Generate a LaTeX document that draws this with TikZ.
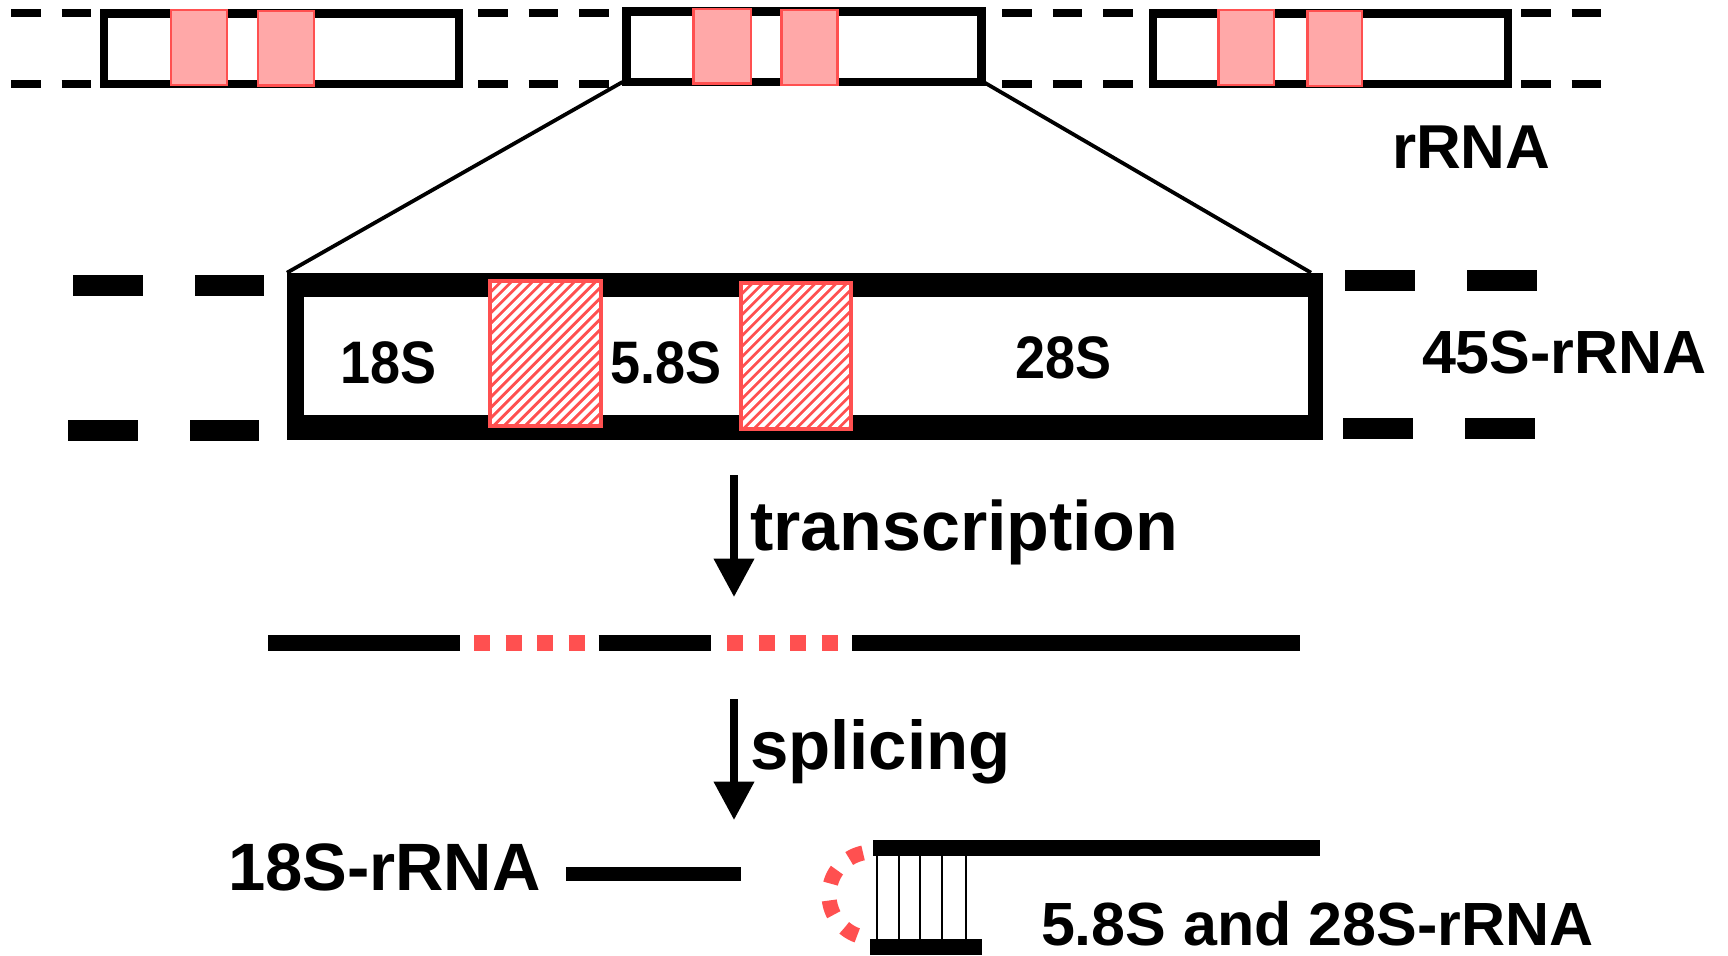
\documentclass[tikz,border=0pt]{standalone}
\usepackage{fontspec}
\setmainfont{Liberation Sans}
\usetikzlibrary{arrows.meta}
\definecolor{hred}{HTML}{FF5050}
\definecolor{hpink}{HTML}{FFA8A8}
\begin{document}
\begin{tikzpicture}[x=1pt,y=-1pt,
  lbl/.style={inner sep=0pt, outer sep=0pt, anchor=base west, font=\bfseries},
  gene/.style={draw=black, line width=8.5pt, minimum width=355pt, minimum height=70.7pt, inner sep=0pt, outer sep=0pt},
  exon/.style={fill=hpink, draw=hred, line width=2.5pt},
  topdash/.style={line width=8pt, dash pattern=on 29.5pt off 21pt},
  middash/.style={line width=20.7pt, dash pattern=on 70pt off 52pt},
  bar/.style={line width=16pt},
  transc/.style={line width=16pt},
  bigarrow/.style={line width=7.5pt, -{Triangle[width=39pt,length=38.5pt]}}
]
\useasboundingbox (0,0) rectangle (1728,955);

% ---- top: gene repeats ----
\foreach \yy in {13.3,84} {
  \draw[topdash] (11,\yy) -- (92,\yy);
  \draw[topdash] (478,\yy) -- (609,\yy);
  \draw[topdash] (1002,\yy) -- (1134,\yy);
  \draw[topdash] (1521,\yy) -- (1602,\yy);
}
\node[gene] (gene1) at (281.5,48.65) {};
\node[gene] (gene2) at (804,46.65) {};
\node[gene] (gene3) at (1330.5,48.65) {};
\draw[exon] (171,10) rectangle (227,85);
\draw[exon] (258,11) rectangle (314,85.5);
\draw[exon] (693.5,9) rectangle (751,83.5);
\draw[exon] (781.5,10) rectangle (837.5,85);
\draw[exon] (1218.5,10) rectangle (1274,85);
\draw[exon] (1307.5,11) rectangle (1362,86);
\node[lbl, font=\bfseries\fontsize{62}{70}\selectfont] (rrna) at (1392,168.3) {rRNA};

% ---- middle: 45S unit ----
\draw[middash] (73,285.3) -- (264,285.3);
\draw[middash] (68,430.3) -- (259,430.3);
\draw[middash] (1345,280.3) -- (1540,280.3);
\draw[middash] (1343,428.5) -- (1537,428.5);
\node[fill=black, minimum width=1036pt, minimum height=167.3pt, inner sep=0pt, outer sep=0pt] (big) at (805,356.35) {};
\fill[white] (304.3,296.7) rectangle (1307.7,415);
\draw[line width=3.8pt] ([xshift=-4pt]gene2.south west) -- (big.north west);
\draw[line width=3.8pt] ([xshift=2pt]gene2.south east) -- ([xshift=-12pt]big.north east);

\foreach \l/\t/\r/\b in {490.3/281.3/601.3/426.3, 740.8/282.7/850.5/428.7} {
  \begin{scope}
    \clip (\l,\t) rectangle (\r,\b);
    \fill[hred] (\l,\t) rectangle (\r,\b);
    \foreach \s in {0,10.5,...,300} \draw[white, line width=4.4pt] (\l-165+\s,\b+5) -- ++(180,-180);
  \end{scope}
  \draw[hred, line width=4pt] (\l,\t) rectangle (\r,\b);
}
\node[lbl] (s18) at (340,383.3) {\scalebox{0.9}[1]{\fontsize{60}{66}\selectfont 18S}};
\node[lbl] (s58) at (610,383) {\scalebox{0.9}[1]{\fontsize{60}{66}\selectfont 5.8S}};
\node[lbl] (s28) at (1015,378.3) {\scalebox{0.9}[1]{\fontsize{60}{66}\selectfont 28S}};
\node[lbl, font=\bfseries\fontsize{61}{70}\selectfont] (s45) at (1422,373.3) {45S-rRNA};

% ---- transcription ----
\coordinate (a1s) at (734,475);
\coordinate (a1e) at (734,597);
\draw[bigarrow] (a1s) -- (a1e);
\node[lbl, font=\bfseries\fontsize{70}{80}\selectfont] (trans) at (750,550) {transcription};

\draw[transc] (268,643) -- (460,643);
\draw[transc] (598.6,643) -- (711,643);
\draw[transc] (852,643) -- (1299.5,643);
\draw[transc, hred, dash pattern=on 16pt off 15.5pt] (474,643) -- (586,643);
\draw[transc, hred, dash pattern=on 16pt off 15.5pt] (727,643) -- (839,643);

% ---- splicing ----
\coordinate (a2s) at (734,699);
\coordinate (a2e) at (734,820);
\draw[bigarrow] (a2s) -- (a2e);
\node[lbl, font=\bfseries\fontsize{69}{78}\selectfont] (splic) at (750,769.3) {splicing};

% ---- products ----
\node[lbl, font=\bfseries\fontsize{67}{76}\selectfont] (p18) at (228,890) {18S-rRNA};
\draw[line width=14pt] (566,873.7) -- (741,873.7);
\draw[line width=15.7pt] (873,848) -- (1320,848);
\draw[bar] (870,947) -- (981.7,947);
\foreach \xx in {877.3,898.7,920.3,941.7,966}
  \draw[line width=2.2pt] (\xx,855.7) -- (\xx,939.2);
\draw[hred, line width=15pt, dash pattern=on 15pt off 17pt]
  plot[domain=258:107, samples=60] ({872+43*cos(\x)},{895+43*sin(\x)});
\node[lbl, font=\bfseries\fontsize{61}{70}\selectfont] (p58) at (1041,945.5) {5.8S and 28S-rRNA};
\end{tikzpicture}
\end{document}
